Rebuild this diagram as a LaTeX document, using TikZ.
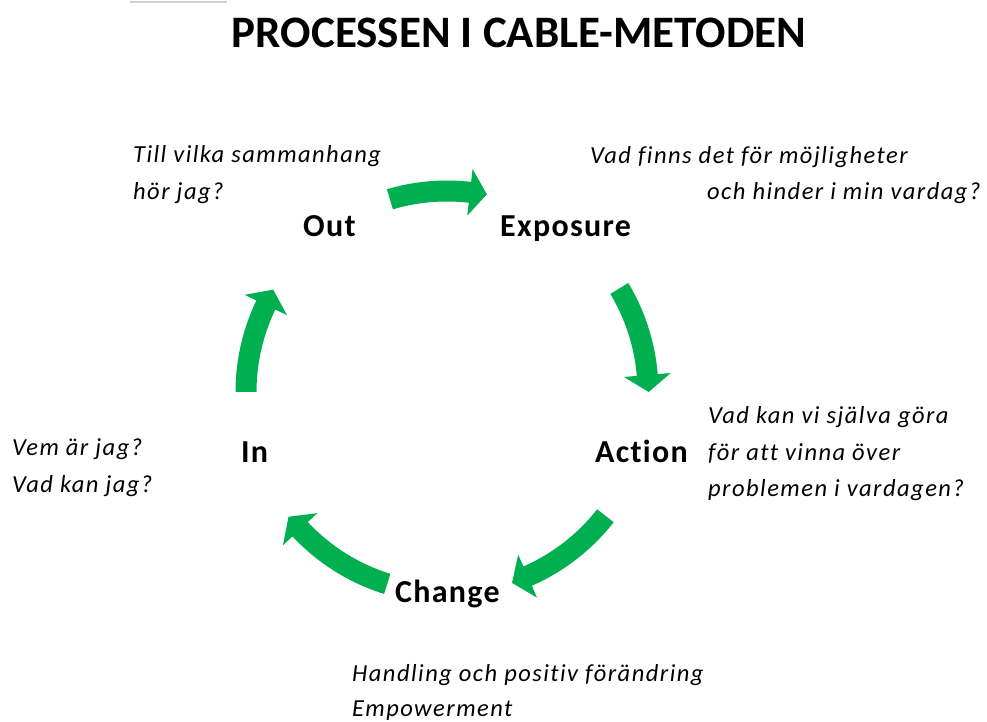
\documentclass[tikz,border=0pt]{standalone}
\usepackage{fontspec}
\setmainfont{Carlito}
\newfontfamily\questionfont[LetterSpace=6,Ligatures={NoCommon}]{Carlito}
\newfontfamily\labelfont[LetterSpace=4,Ligatures={NoCommon}]{Carlito}
\definecolor{cablegreen}{HTML}{00B050}
\definecolor{faintgray}{HTML}{D0D0D0}
\tikzset{
  titletext/.style={font=\fontsize{45}{50}\selectfont\bfseries, inner sep=0pt, anchor=base},
  steplabel/.style={font=\labelfont\fontsize{32}{34}\selectfont\bfseries, inner sep=0pt, anchor=base west},
  question/.style={font=\questionfont\fontsize{24.5}{30}\selectfont\itshape, inner sep=0pt, anchor=base west},
}
\begin{document}
\begin{tikzpicture}[x=1pt,y=1pt]
\useasboundingbox (0,0) rectangle (987,722);
\fill[white] (0,0) rectangle (987,722);
% faint line at top
\draw[faintgray, line width=2pt] (130,719.5) -- (227,719.5);
% title
\node[titletext] (title) at (519,674) {PROCESSEN I CABLE-METODEN};
% step labels
\node[steplabel] (out) at (303,485) {Out};
\node[steplabel] (exposure) at (500,485) {Exposure};
\node[steplabel] (action) at (595,259) {Action};
\node[steplabel] (change) at (395,119) {Change};
\node[steplabel] (in) at (241,259) {In};
% questions
\node[question] (q1a) at (133,559) {Till vilka sammanhang};
\node[question] (q1b) at (133,522) {hör jag?};
\node[question] (q2a) at (590,558) {Vad finns det för möjligheter};
\node[question] (q2b) at (707,522) {och hinder i min vardag?};
\node[question] (q3a) at (708,298) {Vad kan vi själva göra};
\node[question] (q3b) at (708,261) {för att vinna över};
\node[question] (q3c) at (708,225) {problemen i vardagen?};
\node[question] (q4a) at (12,266) {Vem är jag?};
\node[question] (q4b) at (12,229) {Vad kan jag?};
\node[question] (q5a) at (352,40) {Handling och positiv förändring};
\node[question] (q5b) at (352,5) {Empowerment};
% curved block arrows around the cycle
\begin{scope}[shift={(447,330)}]
\def\R{201}
\foreach \a/\b in {106.5/78.6, 31/0, -38/-71.2, -107.3/-141.8, 180/149.5}{
  \pgfmathsetmacro\h{\b+4.85}
  \fill[cablegreen] (\a:\R+10.5) arc[start angle=\a, end angle=\h, radius=\R+10.5]
    -- (\h:\R+23.5) -- (\b:\R+0.7) -- (\h:\R-23.5) -- (\h:\R-10.5)
    arc[start angle=\h, end angle=\a, radius=\R-10.5] -- cycle;
}
\end{scope}
\end{tikzpicture}
\end{document}
